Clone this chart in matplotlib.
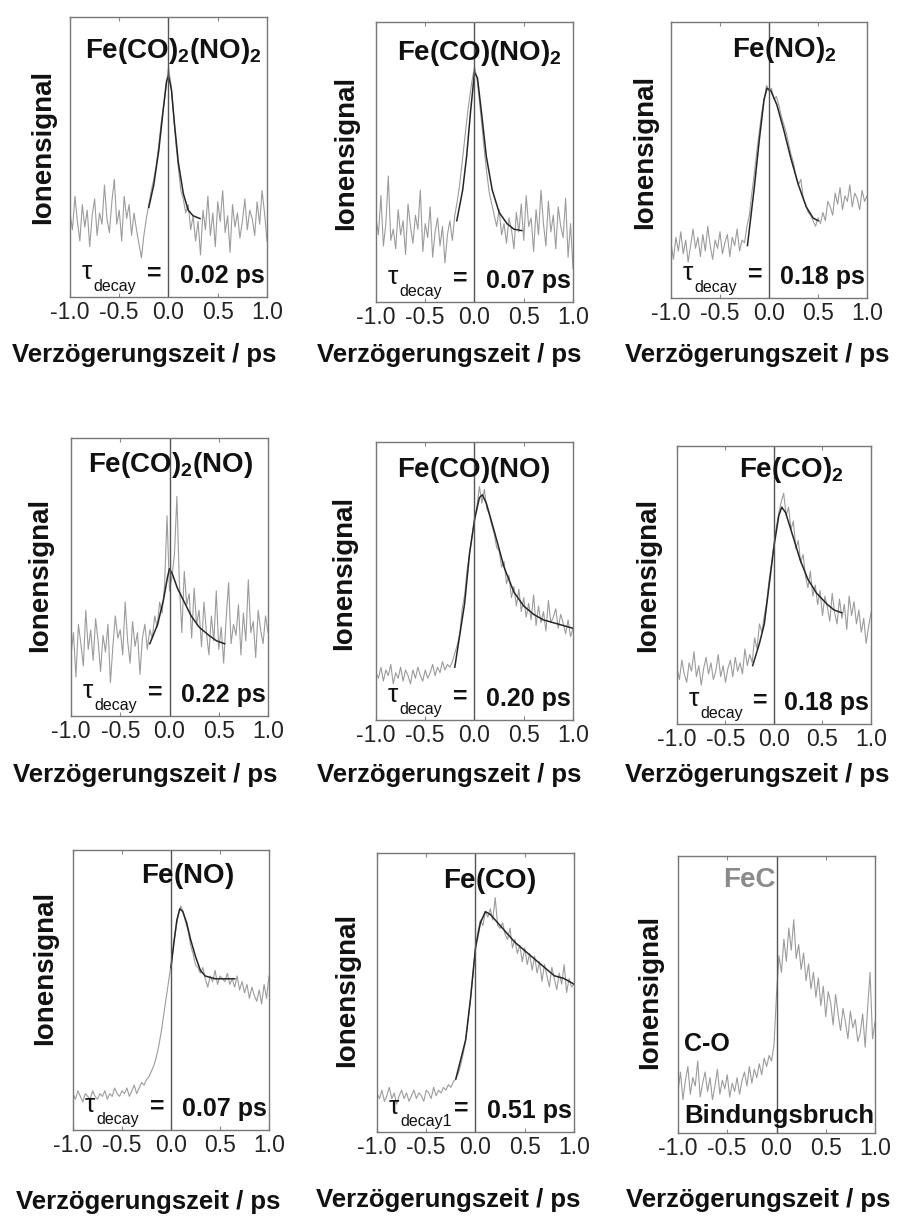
import numpy as np
import matplotlib
matplotlib.use("Agg")
import matplotlib.pyplot as plt

# delay axis sampling (ps)
delay = np.linspace(-1.0, 1.0, 81)

# ion signals, in percent of panel height
sig_co2_no2 = [30, 24, 36, 27, 20, 33, 25, 31, 18, 29, 35, 22, 30, 26, 40, 28, 23, 34, 42, 26,
               31, 20, 36, 28, 33, 22, 30, 24, 19, 14, 22, 28, 33, 38, 42, 47, 54, 62, 68, 75,
               82, 76, 66, 55, 46, 38, 35, 30, 33, 24, 29, 20, 27, 15, 31, 24, 36, 22, 30, 18,
               34, 27, 38, 23, 29, 16, 33, 25, 30, 21, 27, 35, 24, 31, 28, 22, 34, 26, 38, 30, 20]
sig_co_no2 = [30, 24, 38, 20, 28, 45, 22, 26, 19, 33, 24, 29, 17, 35, 27, 21, 31, 26, 40, 18,
              28, 23, 34, 16, 25, 30, 20, 27, 14, 24, 29, 22, 31, 36, 42, 50, 58, 66, 73, 79,
              84, 80, 72, 63, 54, 46, 39, 35, 31, 27, 33, 24, 28, 21, 30, 26, 19, 32, 25, 35,
              22, 38, 27, 30, 18, 33, 24, 40, 28, 20, 36, 25, 31, 19, 34, 27, 23, 37, 16, 28, 12]
sig_no2 = [20, 14, 22, 17, 24, 16, 21, 13, 19, 25, 18, 22, 15, 23, 17, 26, 19, 14, 21, 18,
           24, 16, 20, 23, 15, 22, 19, 25, 17, 21, 20, 26, 30, 38, 45, 53, 60, 67, 72, 77,
           75, 76, 72, 73, 70, 66, 63, 60, 56, 52, 49, 44, 41, 43, 36, 34, 31, 30, 28, 26,
           29, 27, 31, 28, 35, 33, 30, 38, 34, 40, 32, 37, 35, 41, 33, 38, 36, 32, 39, 35, 37]
sig_co2_no = [22, 30, 14, 33, 26, 18, 38, 24, 31, 20, 35, 27, 16, 29, 23, 33, 12, 25, 36, 28,
              31, 22, 41, 27, 19, 34, 25, 30, 15, 28, 33, 24, 31, 28, 36, 32, 41, 37, 47, 72,
              45, 50, 58, 79, 48, 30, 52, 40, 44, 28, 46, 33, 38, 25, 41, 30, 22, 36, 27, 45,
              24, 32, 19, 35, 48, 26, 33, 29, 40, 22, 37, 27, 49, 30, 34, 21, 38, 31, 26, 36, 30]
sig_co_no = [17, 15, 19, 14, 18, 16, 20, 13, 17, 15, 19, 14, 18, 16, 13, 18, 15, 19, 16, 14,
             18, 15, 17, 20, 16, 19, 17, 21, 18, 20, 19, 21, 24, 27, 31, 40, 45, 54, 60, 66,
             72, 77, 84, 78, 83, 76, 74, 70, 67, 62, 61, 55, 57, 49, 52, 44, 48, 41, 47, 39,
             44, 37, 42, 36, 45, 34, 41, 35, 39, 32, 43, 35, 37, 40, 33, 38, 35, 31, 36, 30, 33]
sig_co2 = [20, 16, 23, 18, 15, 22, 19, 26, 17, 21, 14, 20, 24, 18, 22, 16, 19, 25, 17, 21,
           15, 20, 23, 17, 24, 19, 22, 18, 27, 21, 25, 22, 31, 27, 36, 33, 39, 44, 52, 58,
           65, 71, 76, 80, 83, 75, 78, 70, 73, 63, 66, 58, 61, 53, 49, 55, 46, 50, 43, 48,
           39, 46, 42, 37, 47, 40, 36, 45, 38, 43, 34, 46, 39, 44, 36, 41, 33, 38, 29, 35, 40]
sig_no = [13, 11, 14, 12, 10, 13, 12, 11, 14, 12, 11, 13, 12, 14, 11, 13, 12, 15, 13, 12,
          14, 13, 15, 12, 14, 16, 13, 15, 17, 16, 18, 19, 21, 23, 26, 30, 35, 41, 47, 53,
          59, 66, 72, 77, 80, 78, 74, 71, 66, 63, 59, 58, 56, 58, 54, 51, 55, 53, 57, 52,
          55, 54, 53, 56, 52, 54, 51, 55, 50, 53, 49, 52, 47, 51, 48, 46, 50, 45, 52, 47, 55]
sig_co = [14, 12, 15, 11, 13, 16, 12, 14, 10, 13, 15, 12, 14, 11, 13, 15, 12, 14, 13, 11,
          15, 14, 12, 16, 13, 15, 14, 16, 15, 17, 16, 18, 19, 21, 24, 28, 33, 40, 48, 57,
          66, 72, 76, 74, 79, 77, 80, 76, 84, 74, 73, 75, 71, 69, 73, 66, 69, 64, 67, 61,
          66, 60, 64, 58, 63, 57, 61, 54, 60, 56, 52, 59, 55, 51, 57, 53, 60, 50, 55, 52, 53]
sig_c = [15, 22, 12, 19, 24, 14, 20, 17, 26, 13, 18, 22, 15, 20, 12, 17, 23, 14, 19, 16,
         21, 13, 18, 15, 20, 14, 19, 22, 17, 24, 18, 23, 20, 25, 21, 27, 24, 28, 26, 32,
         50, 64, 58, 70, 62, 74, 66, 77, 63, 68, 59, 65, 55, 61, 52, 58, 49, 56, 46, 53,
         42, 51, 47, 39, 50, 43, 37, 45, 40, 34, 44, 38, 41, 33, 36, 43, 31, 45, 58, 34, 40]

# fitted curves (delay / ps, percent)
fit_x_co2_no2 = [-0.2, -0.15, -0.1, -0.05, -0.02, 0.0, 0.03, 0.06, 0.1, 0.15, 0.2, 0.25, 0.32]
fit_y_co2_no2 = [32, 40, 52, 68, 77, 79, 74, 62, 48, 37, 31, 29, 28]
fit_x_co_no2 = [-0.18, -0.12, -0.08, -0.04, 0.0, 0.03, 0.07, 0.12, 0.18, 0.25, 0.33, 0.4, 0.48]
fit_y_co_no2 = [29, 40, 52, 68, 82, 80, 68, 52, 40, 32, 28, 26, 25.5]
fit_x_no2 = [-0.22, -0.15, -0.1, -0.05, -0.02, 0.02, 0.08, 0.15, 0.22, 0.3, 0.38, 0.45, 0.5]
fit_y_no2 = [19, 40, 57, 72, 76, 75, 70, 61, 51, 41, 33, 29, 28]
fit_x_co2_no = [-0.2, -0.12, -0.06, -0.02, 0.0, 0.03, 0.08, 0.15, 0.22, 0.3, 0.4, 0.48, 0.56]
fit_y_co2_no = [26, 33, 42, 50, 53, 51, 46, 41, 36, 32, 29, 27, 26]
fit_x_co_no = [-0.2, -0.1, -0.05, 0.0, 0.05, 0.08, 0.12, 0.2, 0.3, 0.4, 0.5, 0.6, 0.7, 0.8, 0.9, 1.0]
fit_y_co_no = [19, 42, 60, 72, 80, 81, 78, 68, 55, 46, 41, 38, 36, 35, 34, 33]
fit_x_co2 = [-0.22, -0.15, -0.1, -0.05, 0.0, 0.05, 0.08, 0.12, 0.2, 0.27, 0.35, 0.44, 0.55, 0.62, 0.7]
fit_y_co2 = [21, 29, 36, 50, 64, 75, 78, 76, 67, 59, 52, 47, 43, 41, 40]
fit_x_no = [0.0, 0.03, 0.06, 0.09, 0.12, 0.16, 0.2, 0.25, 0.3, 0.35, 0.45, 0.55, 0.65]
fit_y_no = [58, 67, 75, 79, 78, 74, 68, 62, 57, 55, 54, 54, 54]
fit_x_co = [-0.2, -0.1, -0.05, 0.0, 0.05, 0.1, 0.15, 0.2, 0.3, 0.4, 0.5, 0.6, 0.7, 0.8, 0.9, 1.0]
fit_y_co = [19, 33, 48, 66, 75, 79, 78, 76, 72, 68, 65, 62, 59, 56, 55, 53]

titles = [r"$\mathbf{Fe(CO)_2(NO)_2}$", r"$\mathbf{Fe(CO)(NO)_2}$", r"$\mathbf{Fe(NO)_2}$",
          r"$\mathbf{Fe(CO)_2(NO)}$", r"$\mathbf{Fe(CO)(NO)}$", r"$\mathbf{Fe(CO)_2}$",
          r"$\mathbf{Fe(NO)}$", r"$\mathbf{Fe(CO)}$", "FeC"]
tau_labels = ["decay", "decay", "decay", "decay", "decay", "decay", "decay", "decay1", None]
tau_values = ["0.02 ps", "0.07 ps", "0.18 ps", "0.22 ps", "0.20 ps", "0.18 ps", "0.07 ps", "0.51 ps", None]
signals = [sig_co2_no2, sig_co_no2, sig_no2, sig_co2_no, sig_co_no, sig_co2, sig_no, sig_co, sig_c]
fits = [(fit_x_co2_no2, fit_y_co2_no2), (fit_x_co_no2, fit_y_co_no2), (fit_x_no2, fit_y_no2),
        (fit_x_co2_no, fit_y_co2_no), (fit_x_co_no, fit_y_co_no), (fit_x_co2, fit_y_co2),
        (fit_x_no, fit_y_no), (fit_x_co, fit_y_co), None]

# layout in pixels: axes box (left, top, right, bottom), title (x, baseline),
# y-label (x, y), x-label (x, y)
W, H = 912, 1216
boxes = [(70, 17, 267, 297), (376, 22, 573, 302), (671, 22, 867, 298),
         (71, 438, 268, 716), (376, 442, 573, 720), (677, 446, 871, 724),
         (73, 850, 269, 1130), (377, 853, 574, 1132), (678, 856, 875, 1133)]
title_pos = [(173, 58), (479, 60), (784, 57), (171, 472), (474, 477), (791, 477),
             (188, 883), (490, 888), (749, 887)]
ylab_pos = [(43, 147), (346, 153), (645, 152), (40, 575), (344, 573), (648, 575),
            (45, 968), (347, 990), (650, 992)]
xlab_pos = [(144, 355), (449, 355), (757, 355), (145, 775), (449, 775), (757, 775),
            (148, 1202), (448, 1200), (758, 1200)]

plt.rcParams["font.family"] = ["Liberation Sans", "DejaVu Sans"]
plt.rcParams["mathtext.fontset"] = "custom"
plt.rcParams["mathtext.rm"] = "Liberation Sans"
plt.rcParams["mathtext.it"] = "Liberation Sans:italic"
plt.rcParams["mathtext.bf"] = "Liberation Sans:bold"

fig = plt.figure(figsize=(W / 100, H / 100), dpi=100)


def fx(px):
    return px / W


def fy(py):
    return 1 - py / H


for k in range(9):
    l, t, r, b = boxes[k]
    ax = fig.add_axes([fx(l), fy(b), (r - l) / W, (b - t) / H])
    ax.plot(delay, signals[k], color="#9c9c9c", lw=0.8)
    if fits[k] is not None:
        ax.plot(fits[k][0], fits[k][1], color="#262626", lw=1.1)
    ax.axvline(0, color="#555555", lw=1.0)
    ax.set_xlim(-1.0, 1.0)
    ax.set_ylim(0, 100)
    ax.set_yticks([])
    ax.set_xticks([-1.0, -0.5, 0.0, 0.5, 1.0])
    ax.set_xticklabels(["-1.0", "-0.5", "0.0", "0.5", "1.0"])
    ax.tick_params(axis="x", direction="in", top=True, length=3, width=0.8,
                   color="#888888", labelsize=16.5, pad=3, labelcolor="#222222")
    for s in ax.spines.values():
        s.set_color("#777777")
        s.set_linewidth(1.0)

    tcol = "#8a8a8a" if k == 8 else "#111111"
    fig.text(fx(title_pos[k][0]), fy(title_pos[k][1]), titles[k], ha="center", va="baseline",
             fontsize=20, fontweight="bold", color=tcol)
    fig.text(fx(ylab_pos[k][0]), fy(ylab_pos[k][1]), "Ionensignal", rotation=90,
             ha="center", va="center", fontsize=20, fontweight="bold", color="#111111")
    fig.text(fx(xlab_pos[k][0]), fy(xlab_pos[k][1]), "Verzögerungszeit / ps",
             ha="center", va="center", fontsize=18.5, fontweight="bold", color="#111111")

    if tau_values[k] is not None:
        ax.text(0.06, 0.065, "τ", transform=ax.transAxes, ha="left", va="baseline",
                fontsize=19, color="#111111")
        ax.text(0.12, 0.02, tau_labels[k], transform=ax.transAxes, ha="left", va="baseline",
                fontsize=11.5, color="#111111", clip_on=False)
        ax.text(0.43, 0.06, "=", transform=ax.transAxes, ha="center", va="baseline",
                fontsize=18, fontweight="bold", color="#111111")
        ax.text(0.99, 0.05, tau_values[k], transform=ax.transAxes, ha="right", va="baseline",
                fontsize=18, fontweight="bold", color="#111111")
    else:
        ax.text(0.03, 0.32, "C-O", transform=ax.transAxes, ha="left", va="center",
                fontsize=18, fontweight="bold", color="#111111")
        ax.text(0.03, 0.06, "Bindungsbruch", transform=ax.transAxes, ha="left", va="center",
                fontsize=18.5, fontweight="bold", color="#111111", clip_on=False)

fig.savefig("out.png", dpi=100)
